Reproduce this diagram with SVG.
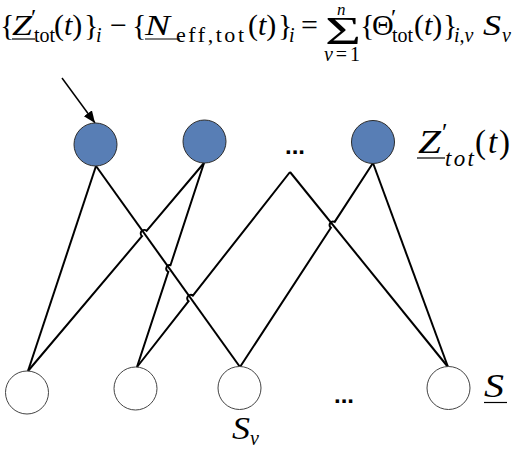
<svg xmlns="http://www.w3.org/2000/svg" width="517" height="450" viewBox="0 0 517 450">
<style>
.m{font-family:"Liberation Serif","DejaVu Serif",serif;font-size:30px;fill:#000}
.s{font-family:"Liberation Serif","DejaVu Serif",serif;font-size:20px;fill:#000}
.i{font-style:italic}
.ul{stroke:#000;stroke-width:1.2}
.top{fill:#587eb5;stroke:#2b2b2b;stroke-width:1}
.bot{fill:#fff;stroke:#444;stroke-width:1}
.e{fill:none;stroke:#000;stroke-width:2}
.dots{font-family:"Liberation Sans",Arial,sans-serif;font-size:24px;font-weight:bold;fill:#000}
</style>
<defs>
<marker id="ah" markerUnits="userSpaceOnUse" markerWidth="14" markerHeight="12" refX="12" refY="5" orient="auto">
<path d="M0,0 L12,5 L0,10 Z" fill="#000"/>
</marker>
</defs>
<g id="formula">
<text class="m" x="0" y="35">{</text>
<text class="m i" x="12" y="35" textLength="20" lengthAdjust="spacingAndGlyphs">Z</text>
<line class="ul" x1="12" y1="39" x2="35" y2="39"/>
<text class="s" x="31" y="25" style="font-size:24px">′</text>
<text class="s" x="34" y="42">tot</text>
<text class="m" x="54" y="35">(<tspan class="i">t</tspan>)</text>
<text class="m" x="84" y="35">}</text>
<text class="s i" x="96" y="42">i</text>
<text class="m" x="110" y="35">−</text>
<text class="m" x="132" y="35">{</text>
<text class="m i" x="145" y="35" textLength="25" lengthAdjust="spacingAndGlyphs">N</text>
<line class="ul" x1="145" y1="39" x2="180" y2="39"/>
<text class="s" x="176" y="42" style="font-size:22px" textLength="68" lengthAdjust="spacing">eff,tot</text>
<text class="m" x="248" y="35">(<tspan class="i">t</tspan>)</text>
<text class="m" x="278" y="35">}</text>
<text class="s i" x="289" y="42">i</text>
<text class="m" x="301" y="35">=</text>
<text class="m" transform="translate(325,44) scale(1.55,1)" x="0" y="0" style="font-size:40px">Σ</text>
<text class="s i" x="337" y="15" style="font-size:17px">n</text>
<text class="s" x="324" y="61" textLength="36" lengthAdjust="spacing"><tspan class="i">v</tspan>=1</text>
<text class="m" x="360" y="35">{</text>
<text class="m" x="372" y="35">Θ</text>
<text class="s" x="391" y="25" style="font-size:24px">′</text>
<text class="s" x="392" y="42">tot</text>
<text class="m" x="414" y="35">(<tspan class="i">t</tspan>)</text>
<text class="m" x="443" y="35">}</text>
<text class="s i" x="454" y="42">i,v</text>
<text class="m i" x="483" y="35" textLength="18" lengthAdjust="spacingAndGlyphs">S</text>
<text class="s i" x="502" y="42">v</text>
</g>
<g id="connectors">
<line x1="62" y1="78" x2="95" y2="123" stroke="#000" stroke-width="1.5" marker-end="url(#ah)"/>
<path class="e" d="M96,166 L28,371"/>
<path class="e" d="M96,166 L240,367"/>
<path class="e" d="M204,163 L146.6,230.8 A3.5,3.5 0 0 0 142,236.2 L28,371"/>
<path class="e" d="M204,163 L170.5,265.2 A3.5,3.5 0 0 0 168.3,271.8 L137,367"/>
<path class="e" d="M290,172 L192.9,295.6 A3.5,3.5 0 0 0 188.6,301.2 L137,367"/>
<path class="e" d="M290,172 L448,367"/>
<path class="e" d="M373,163 L334.7,221.9 A3.5,3.5 0 0 0 330.9,227.7 L240,367"/>
<path class="e" d="M373,163 L448,367"/>
</g>
<g id="top1"><circle class="top" cx="95.5" cy="144.5" r="21.5"/></g>
<g id="top2"><circle class="top" cx="204.5" cy="141.5" r="21.5"/></g>
<g id="topdots"><text class="dots" x="285" y="154">...</text></g>
<g id="top3"><circle class="top" cx="373" cy="142" r="21.5"/></g>
<g id="label-Z">
<text class="m i" x="418" y="153" style="font-size:33px" textLength="23" lengthAdjust="spacingAndGlyphs">Z</text>
<line class="ul" x1="417" y1="158" x2="445" y2="158"/>
<text class="s" x="442" y="141" style="font-size:25px">′</text>
<text class="s i" x="445" y="166" style="font-size:23px" textLength="29" lengthAdjust="spacing">tot</text>
<text class="m" x="475" y="153" style="font-size:33px" textLength="35" lengthAdjust="spacing">(<tspan class="i">t</tspan>)</text>
</g>
<g id="bot1"><circle class="bot" cx="27" cy="392.5" r="21.5"/></g>
<g id="bot2"><circle class="bot" cx="135.5" cy="388.5" r="21.5"/></g>
<g id="bot3"><circle class="bot" cx="239.5" cy="388" r="21.5"/></g>
<g id="botdots"><text class="dots" x="334" y="403">...</text></g>
<g id="bot4"><circle class="bot" cx="448.5" cy="388" r="21.5"/></g>
<g id="label-S">
<text class="m i" x="484" y="397" style="font-size:33px" textLength="20" lengthAdjust="spacingAndGlyphs">S</text>
<line class="ul" x1="484" y1="402.5" x2="507" y2="402.5"/>
</g>
<g id="label-Sv">
<text class="m i" x="232" y="439" style="font-size:31px" textLength="18" lengthAdjust="spacingAndGlyphs">S</text>
<text class="s i" x="250" y="445" style="font-size:20px">v</text>
</g>
</svg>
